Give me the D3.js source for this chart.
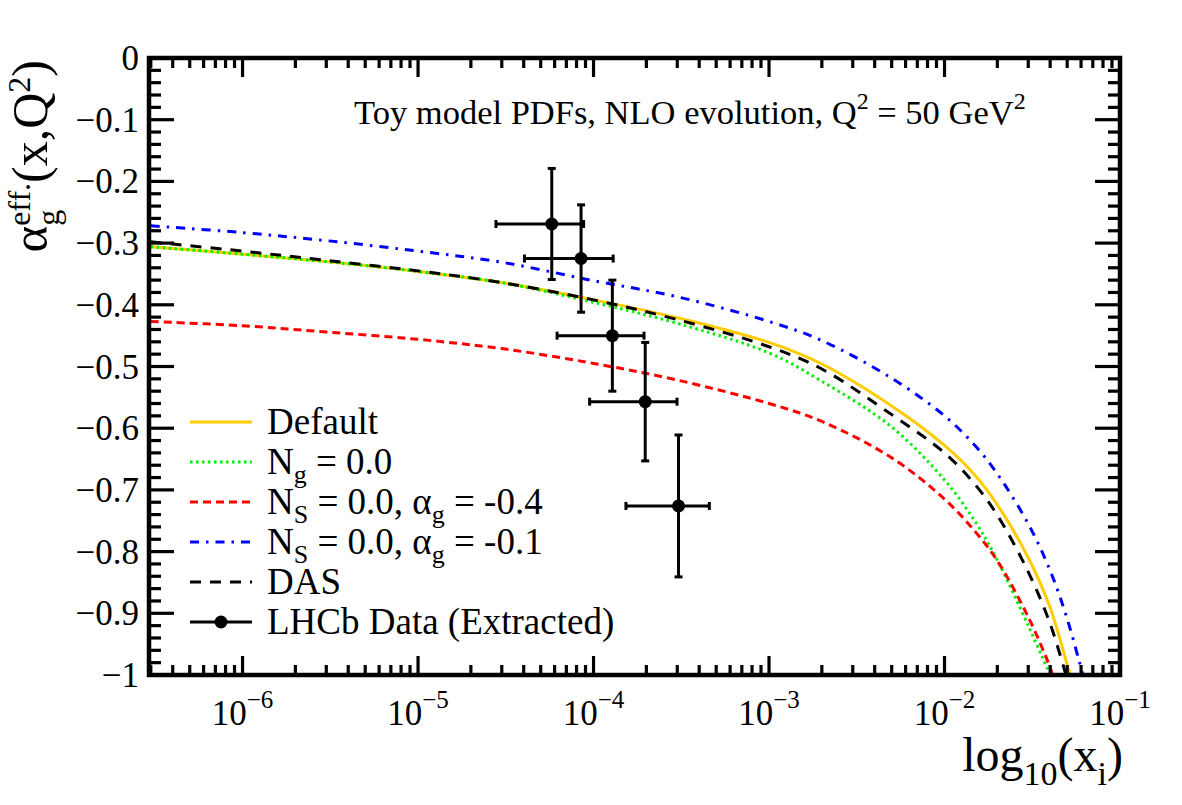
<!DOCTYPE html>
<html><head><meta charset="utf-8">
<script src="https://cdn.jsdelivr.net/npm/d3@7"></script>
<style>body{margin:0;background:#fff}</style>
</head><body><svg id="c" width="1182" height="805"></svg>
<script>
// ---------------- data ----------------
const xGrid = [3e-7, 1e-6, 3e-6, 1e-5, 3e-5, 1e-4, 3e-4, 1e-3, 2e-3, 5e-3, 1e-2, 1.5e-2, 2e-2, 3e-2, 4e-2, 5e-2, 6e-2];
const defaultY = [-0.306, -0.318, -0.330, -0.346, -0.364, -0.392, -0.421, -0.461, -0.496, -0.564, -0.628, -0.677, -0.724, -0.810, -0.891, -0.983];
const defaultEnd = [0.0522, -1.0];
const ngY = [-0.306, -0.318, -0.330, -0.346, -0.364, -0.396, -0.430, -0.478, -0.524, -0.598, -0.684, -0.752, -0.814, -0.920];
const ngEnd = [0.0400, -1.0];
const nsA04Y = [-0.427, -0.434, -0.444, -0.456, -0.471, -0.495, -0.522, -0.560, -0.589, -0.648, -0.715, -0.768, -0.815, -0.906, -0.988];
const nsA04End = [0.0412, -1.0];
const nsA01Y = [-0.272, -0.283, -0.296, -0.313, -0.331, -0.361, -0.387, -0.427, -0.458, -0.519, -0.580, -0.629, -0.674, -0.755, -0.831, -0.909, -0.989];
const nsA01End = [0.0615, -1.0];
const dasY = [-0.298, -0.313, -0.328, -0.345, -0.364, -0.392, -0.424, -0.468, -0.504, -0.578, -0.640, -0.692, -0.741, -0.833, -0.917];
const dasEnd = [0.0492, -1.0];

const lhcbX = [5.78e-5, 8.49e-5, 1.28e-4, 1.97e-4, 3.05e-4];
const lhcbXErr = [3.0e-5, 4.45e-5, 6.6e-5, 1.02e-4, 1.52e-4];
const lhcbY = [-0.269, -0.325, -0.450, -0.557, -0.726];
const lhcbYErr = [0.090, 0.087, 0.090, 0.096, 0.115];

const xMajorTicks = [1e-6, 1e-5, 1e-4, 1e-3, 1e-2, 1e-1];
const xTickExponents = ["\u22126", "\u22125", "\u22124", "\u22123", "\u22122", "\u22121"];
const yMajorTicks = [0, -0.1, -0.2, -0.3, -0.4, -0.5, -0.6, -0.7, -0.8, -0.9, -1];
const yTickLabels = ["0", "\u22120.1", "\u22120.2", "\u22120.3", "\u22120.4", "\u22120.5", "\u22120.6", "\u22120.7", "\u22120.8", "\u22120.9", "\u22121"];

// ---------------- layout ----------------
const FONT = "Liberation Serif, Times New Roman, serif";
const L = 149, R = 1120, T = 58, B = 675;
const svg = d3.select("#c");
svg.append("rect").attr("width", 1182).attr("height", 805).attr("fill", "#fff");

const x = d3.scaleLog().domain([2.93e-7, 0.1]).range([L, R]);
const y = d3.scaleLinear().domain([-1, 0]).range([B, T]);

svg.append("defs").append("clipPath").attr("id", "clip")
  .append("rect").attr("x", L).attr("y", T).attr("width", R - L).attr("height", B - T);

function pts(ys, end) {
  const p = ys.map((v, i) => [xGrid[i], v]);
  p.push(end);
  return p;
}

const series = [
  { name: "Default", data: pts(defaultY, defaultEnd), color: "#ffcc00", dash: null, w: 3 },
  { name: "Ng", data: pts(ngY, ngEnd), color: "#00ee00", dash: "2.5,3.5", w: 3 },
  { name: "NsA04", data: pts(nsA04Y, nsA04End), color: "#ff0000", dash: "8,5", w: 3 },
  { name: "NsA01", data: pts(nsA01Y, nsA01End), color: "#0000ff", dash: "9,7,2.5,7", w: 3 },
  { name: "DAS", data: pts(dasY, dasEnd), color: "#000000", dash: "11,9", w: 3 },
];

const line = d3.line().x(d => x(d[0])).y(d => y(d[1])).curve(d3.curveCatmullRom.alpha(0.5));
const curveG = svg.append("g").attr("clip-path", "url(#clip)");
series.forEach(s => {
  curveG.append("path").attr("d", line(s.data)).attr("fill", "none")
    .attr("stroke", s.color).attr("stroke-width", s.w)
    .attr("stroke-dasharray", s.dash);
});

// data points
const ptG = svg.append("g").attr("stroke", "#000").attr("stroke-width", 3);
const cap = 4;
lhcbX.forEach((xv, i) => {
  const cx = x(xv), cy = y(lhcbY[i]);
  const x0 = x(xv - lhcbXErr[i]), x1 = x(xv + lhcbXErr[i]);
  const y0 = y(lhcbY[i] - lhcbYErr[i]), y1 = y(lhcbY[i] + lhcbYErr[i]);
  ptG.append("line").attr("x1", x0).attr("x2", x1).attr("y1", cy).attr("y2", cy);
  ptG.append("line").attr("x1", cx).attr("x2", cx).attr("y1", y0).attr("y2", y1);
  ptG.append("line").attr("x1", x0).attr("x2", x0).attr("y1", cy - cap).attr("y2", cy + cap);
  ptG.append("line").attr("x1", x1).attr("x2", x1).attr("y1", cy - cap).attr("y2", cy + cap);
  ptG.append("line").attr("x1", cx - cap).attr("x2", cx + cap).attr("y1", y0).attr("y2", y0);
  ptG.append("line").attr("x1", cx - cap).attr("x2", cx + cap).attr("y1", y1).attr("y2", y1);
  svg.append("circle").attr("cx", cx).attr("cy", cy).attr("r", 6.5).attr("fill", "#000");
});

// ---------------- axes / frame ----------------
const tickG = svg.append("g").attr("stroke", "#000").attr("stroke-width", 3.2);
const xMinor = [];
for (let e = -7; e <= -2; e++) for (let k = 2; k <= 9; k++) {
  const v = k * Math.pow(10, e);
  if (v > x.domain()[0] && v < x.domain()[1]) xMinor.push(v);
}
xMajorTicks.forEach(v => {
  tickG.append("line").attr("x1", x(v)).attr("x2", x(v)).attr("y1", B).attr("y2", B - 19);
  tickG.append("line").attr("x1", x(v)).attr("x2", x(v)).attr("y1", T).attr("y2", T + 19);
});
xMinor.forEach(v => {
  tickG.append("line").attr("x1", x(v)).attr("x2", x(v)).attr("y1", B).attr("y2", B - 10);
  tickG.append("line").attr("x1", x(v)).attr("x2", x(v)).attr("y1", T).attr("y2", T + 10);
});
d3.range(0, 51).forEach(i => {
  const v = -i * 0.02;
  const major = i % 5 === 0;
  const len = major ? 25 : 12;
  tickG.append("line").attr("x1", L).attr("x2", L + len).attr("y1", y(v)).attr("y2", y(v));
  tickG.append("line").attr("x1", R).attr("x2", R - len).attr("y1", y(v)).attr("y2", y(v));
});

svg.append("rect").attr("x", L).attr("y", T).attr("width", R - L).attr("height", B - T)
  .attr("fill", "none").attr("stroke", "#000").attr("stroke-width", 4.5);

// tick labels
const lab = svg.append("g").attr("font-family", FONT).attr("fill", "#000");
yMajorTicks.forEach((v, i) => {
  lab.append("text").attr("x", 139).attr("y", y(v) + 12).attr("text-anchor", "end")
    .attr("font-family", FONT).attr("font-size", 35).text(yTickLabels[i]);
});
xMajorTicks.forEach((v, i) => {
  const t = lab.append("text").attr("x", x(v)).attr("y", 725).attr("text-anchor", "middle")
    .attr("font-family", FONT).attr("font-size", 35);
  t.append("tspan").text("10");
  t.append("tspan").attr("font-size", 25).attr("dy", -17).text(xTickExponents[i]);
});

// axis titles
function measure(str, size) {
  const t = svg.append("text").attr("font-family", FONT).attr("font-size", size).text(str);
  const w = t.node().getComputedTextLength(); t.remove(); return w;
}
const yt = lab.append("text").attr("transform", `translate(47,${T + 2}) rotate(-90)`)
  .attr("text-anchor", "end").attr("font-size", 50);
const wEff = measure("eff.", 32), wG = measure("g", 32);
yt.append("tspan").attr("font-size", 51).text("\u03b1");
yt.append("tspan").attr("font-size", 32).attr("dy", -17).text("eff.");
yt.append("tspan").attr("font-size", 32).attr("dx", -wEff).attr("dy", 29).text("g");
yt.append("tspan").attr("dx", wEff - wG).attr("dy", -12).text("(x,Q");
yt.append("tspan").attr("font-size", 32).attr("dy", -17).text("2");
yt.append("tspan").attr("dy", 17).text(")");

const xt = lab.append("text").attr("x", 1123).attr("y", 771).attr("text-anchor", "end").attr("font-size", 48);
xt.append("tspan").text("log");
xt.append("tspan").attr("font-size", 34).attr("dy", 14).text("10");
xt.append("tspan").attr("dy", -14).text("(x");
xt.append("tspan").attr("font-size", 34).attr("dy", 14).text("i");
xt.append("tspan").attr("dy", -14).text(")");

// annotation
const an = lab.append("text").attr("x", 354).attr("y", 124).attr("font-size", 34.5);
an.append("tspan").text("Toy model PDFs, NLO evolution, Q");
an.append("tspan").attr("font-size", 24).attr("dy", -15).text("2");
an.append("tspan").attr("dy", 15).text(" = 50 GeV");
an.append("tspan").attr("font-size", 24).attr("dy", -15).text("2");

// ---------------- legend ----------------
const legY = [422, 462, 502, 542, 582, 622];
const legG = svg.append("g");
const LX0 = 190, LX1 = 252, TX = 267, FS = 37, SFS = 26;
series.forEach((s, i) => {
  legG.append("line").attr("x1", LX0).attr("x2", LX1).attr("y1", legY[i]).attr("y2", legY[i])
    .attr("stroke", s.color).attr("stroke-width", s.w).attr("stroke-dasharray", s.dash);
});
legG.append("line").attr("x1", LX0).attr("x2", LX1).attr("y1", legY[5]).attr("y2", legY[5])
  .attr("stroke", "#000").attr("stroke-width", 3);
legG.append("circle").attr("cx", (LX0 + LX1) / 2).attr("cy", legY[5]).attr("r", 6.5).attr("fill", "#000");

function legText(i, parts) {
  const t = legG.append("text").attr("x", TX).attr("y", legY[i] + 12).attr("font-family", FONT)
    .attr("font-size", FS).attr("fill", "#000");
  let cur = 0;
  parts.forEach(p => {
    const sub = p[1] === "sub";
    const target = sub ? 9 : 0;
    t.append("tspan").attr("font-size", sub ? SFS : FS).attr("dy", target - cur).text(p[0]);
    cur = target;
  });
}
legText(0, [["Default"]]);
legText(1, [["N"], ["g", "sub"], [" = 0.0"]]);
legText(2, [["N"], ["S", "sub"], [" = 0.0, \u03b1"], ["g", "sub"], [" = -0.4"]]);
legText(3, [["N"], ["S", "sub"], [" = 0.0, \u03b1"], ["g", "sub"], [" = -0.1"]]);
legText(4, [["DAS"]]);
legText(5, [["LHCb Data (Extracted)"]]);
</script></body></html>
